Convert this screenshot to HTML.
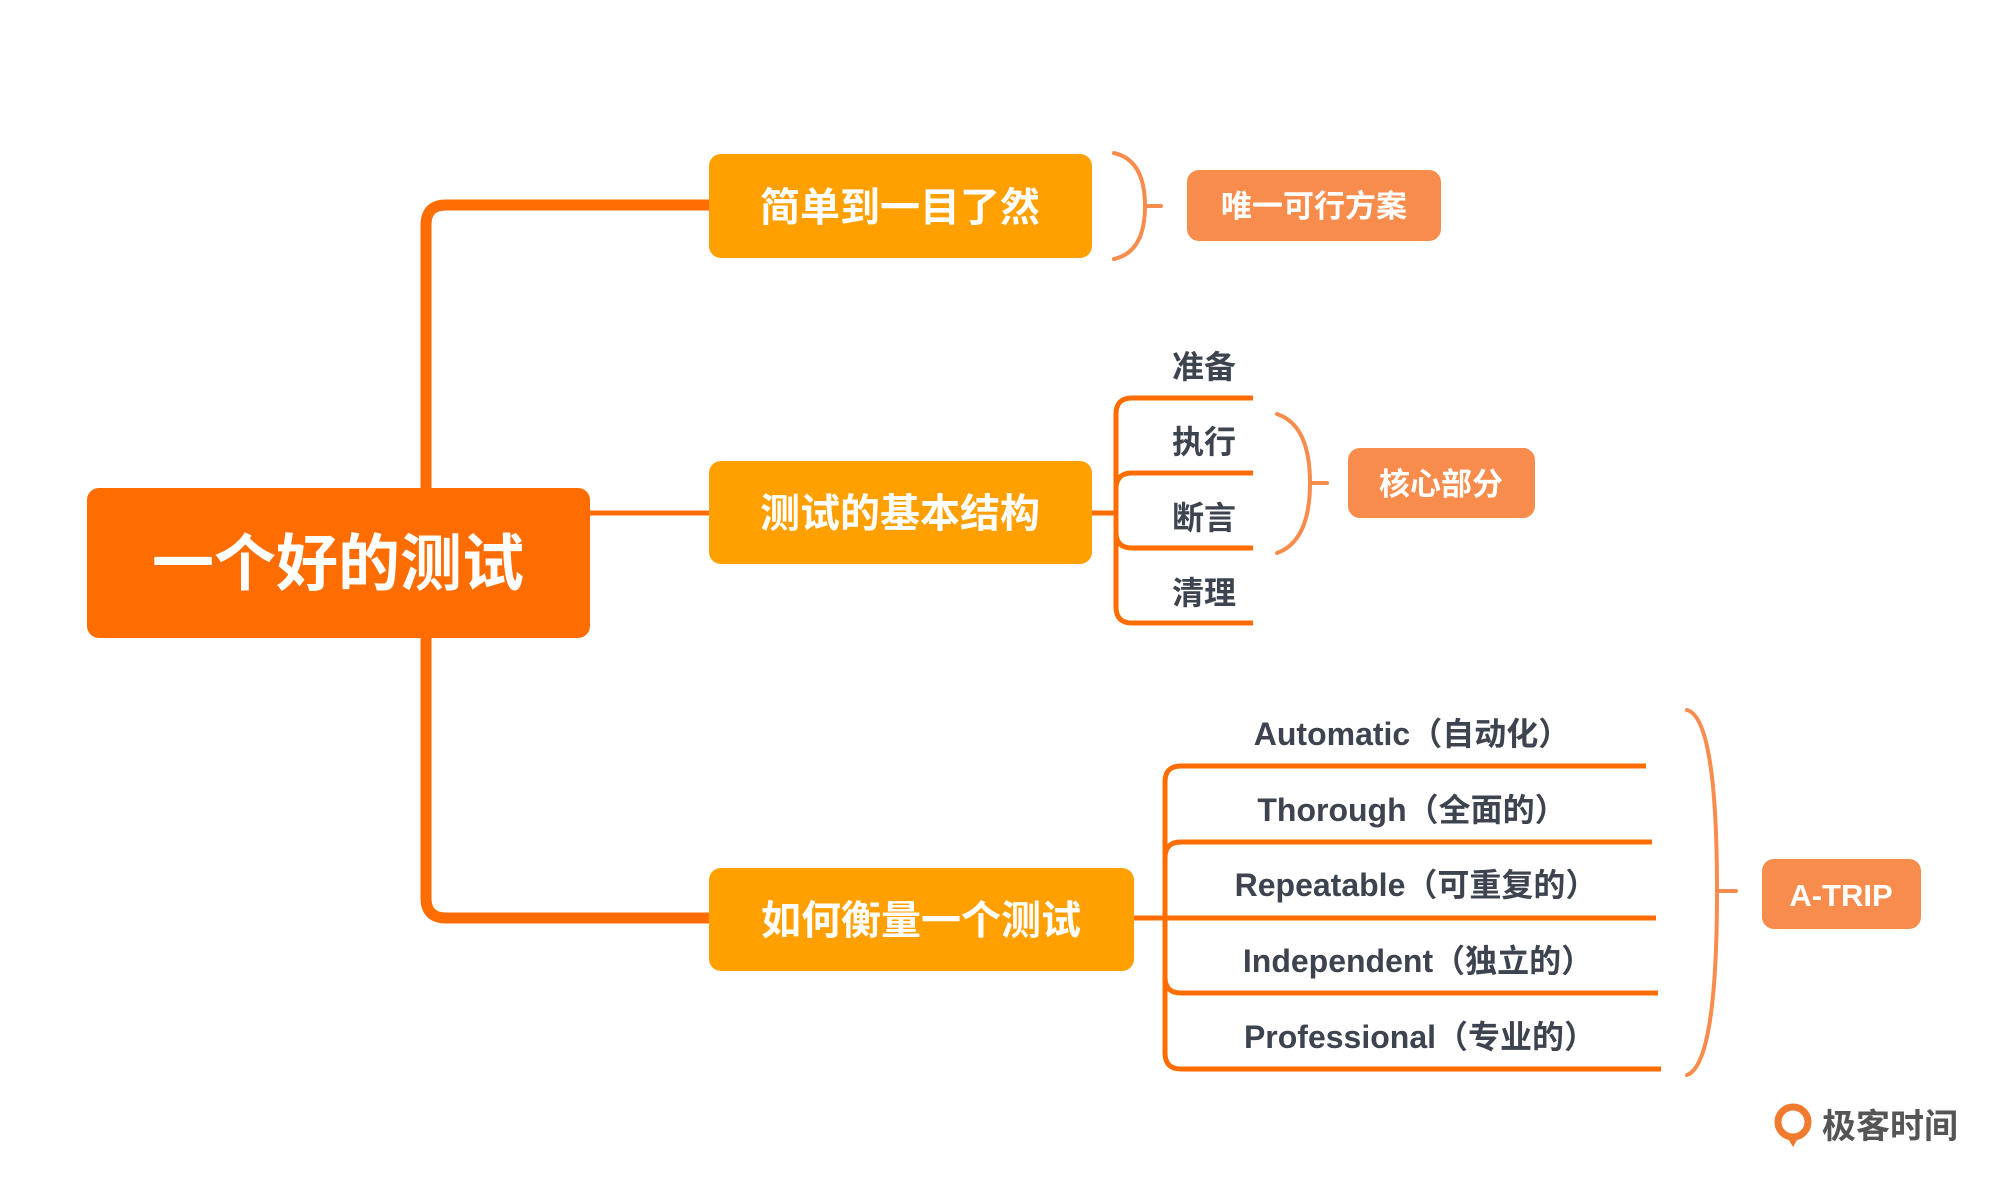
<!DOCTYPE html>
<html><head><meta charset="utf-8"><style>
html,body{margin:0;padding:0;background:#fff;}
svg{display:block;}
text{font-family:"Liberation Sans","Noto Sans CJK SC",sans-serif;font-weight:bold;}
</style></head><body>
<svg width="2000" height="1193" viewBox="0 0 2000 1193" xmlns="http://www.w3.org/2000/svg">
<g fill="none" stroke="#FF6D00" stroke-linejoin="round">
  <path d="M709 205 H446 Q426 205 426 225 V898 Q426 918 446 918 H709" stroke-width="11"/>
  <path d="M590 513 H709" stroke-width="5"/>
  <path d="M1092 513 H1116" stroke-width="5"/>
  <path d="M1253 398 H1132 Q1116 398 1116 414 V607 Q1116 623 1132 623 H1253" stroke-width="5"/>
  <path d="M1253 473 H1132 Q1116 473 1116 489 V532 Q1116 548 1132 548 H1253" stroke-width="5"/>
  <path d="M1134 918 H1656" stroke-width="5"/>
  <path d="M1646 766 H1181 Q1165 766 1165 782 V1053 Q1165 1069 1181 1069 H1661" stroke-width="5"/>
  <path d="M1652 842 H1181 Q1165 842 1165 858 V977 Q1165 993 1181 993 H1658" stroke-width="5"/>
</g>
<g fill="none" stroke="#F78C4C" stroke-width="4" stroke-linecap="round">
  <path d="M1114 153 Q1145 160 1145 206 Q1145 252 1114 259"/>
  <path d="M1145 206 H1161"/>
  <path d="M1277 414 Q1310 425 1310 483 Q1310 541 1277 553"/>
  <path d="M1310 483 H1327"/>
  <path d="M1687 710 Q1717 718 1717 891 Q1717 1064 1687 1075"/>
  <path d="M1717 891 H1736"/>
</g>
<rect x="87" y="488" width="503" height="150" rx="12" fill="#FF6D00"/>
<text x="338" y="585" font-size="62" fill="#fff" text-anchor="middle">一个好的测试</text>
<rect x="709" y="154" width="383" height="104" rx="12" fill="#FFA000"/>
<text x="900" y="221" font-size="40" fill="#fff" text-anchor="middle">简单到一目了然</text>
<rect x="709" y="461" width="383" height="103" rx="12" fill="#FFA000"/>
<text x="900" y="527" font-size="40" fill="#fff" text-anchor="middle">测试的基本结构</text>
<rect x="709" y="868" width="425" height="103" rx="12" fill="#FFA000"/>
<text x="921" y="934" font-size="40" fill="#fff" text-anchor="middle">如何衡量一个测试</text>
<rect x="1187" y="170" width="254" height="71" rx="12" fill="#F78C4C"/>
<text x="1314" y="217" font-size="31" fill="#fff" text-anchor="middle">唯一可行方案</text>
<rect x="1348" y="448" width="187" height="70" rx="12" fill="#F78C4C"/>
<text x="1441" y="495" font-size="31" fill="#fff" text-anchor="middle">核心部分</text>
<rect x="1762" y="859" width="159" height="70" rx="12" fill="#F78C4C"/>
<text x="1841" y="906" font-size="31" fill="#fff" text-anchor="middle" font-weight="normal">A-TRIP</text>
<g fill="#3D4450" font-size="32" text-anchor="middle">
  <text x="1204" y="378">准备</text>
  <text x="1204" y="453">执行</text>
  <text x="1204" y="529">断言</text>
  <text x="1204" y="604">清理</text>
  <text x="1412" y="745">Automatic（自动化）</text>
  <text x="1412" y="821">Thorough（全面的）</text>
  <text x="1416" y="896">Repeatable（可重复的）</text>
  <text x="1418" y="972">Independent（独立的）</text>
  <text x="1420" y="1048">Professional（专业的）</text>
</g>
<circle cx="1793" cy="1122" r="15" fill="none" stroke="#F07A2E" stroke-width="7"/>
<path d="M1786 1135 L1793 1147 L1800 1135 Z" fill="#F07A2E"/>
<text x="1822" y="1138" font-size="34" fill="#555" font-weight="normal">极客时间</text>
</svg>
</body></html>
